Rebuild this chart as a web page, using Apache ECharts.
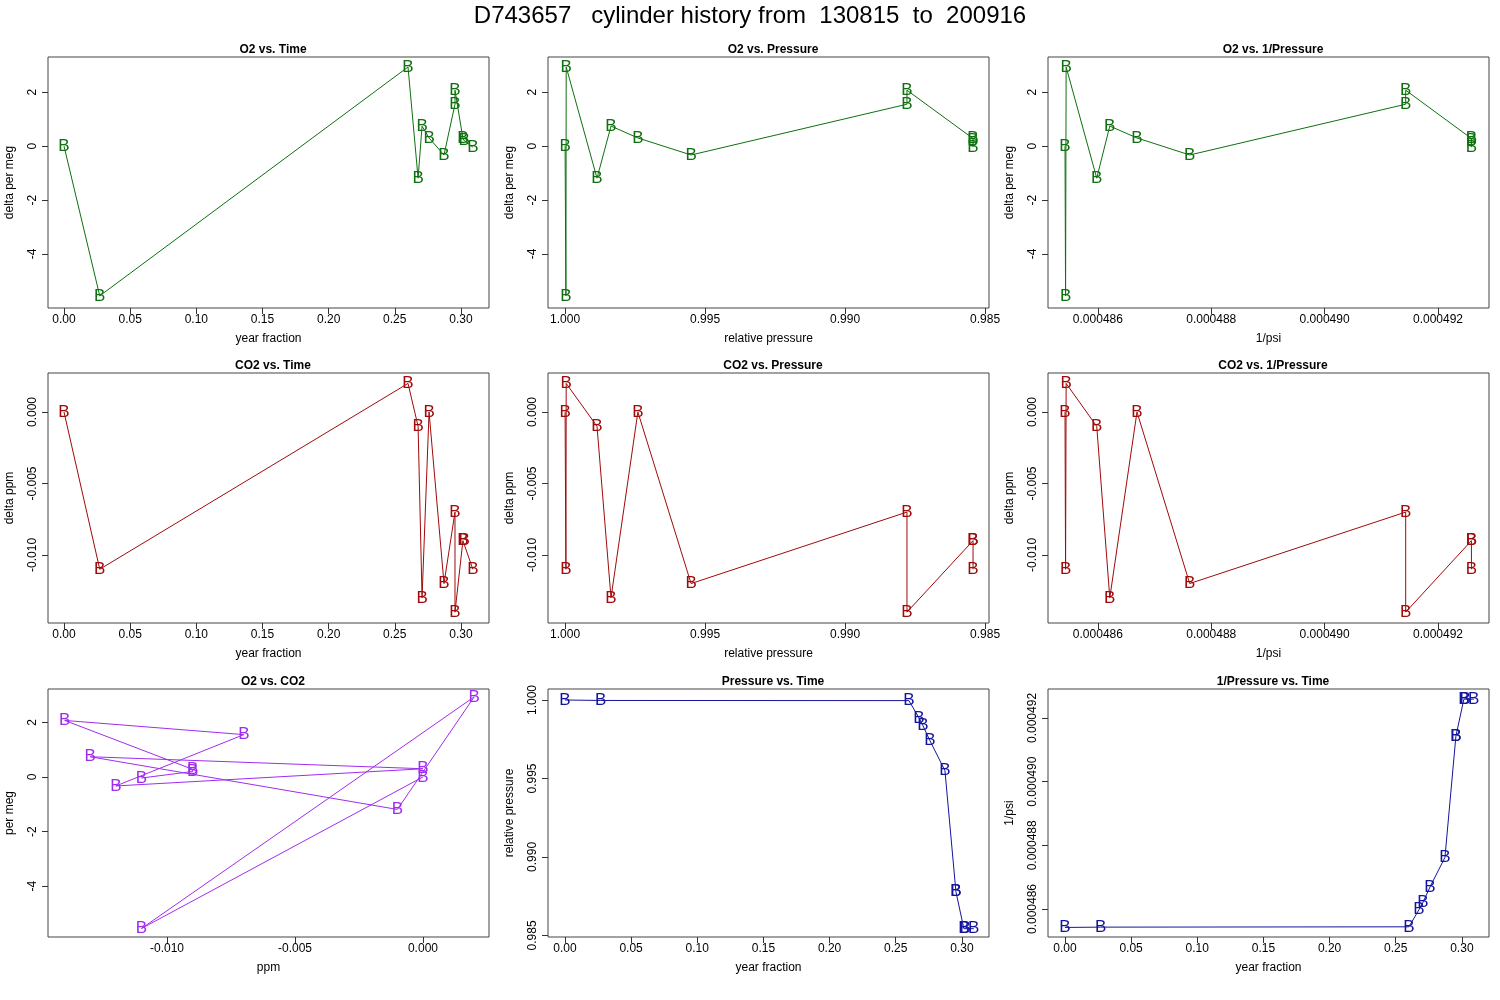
<!DOCTYPE html>
<html>
<head>
<meta charset="utf-8">
<script src="https://cdn.jsdelivr.net/npm/echarts@6/dist/echarts.min.js"></script>
<style>
  html, body { margin: 0; padding: 0; background: #fff; }
  #chart { width: 1500px; height: 1000px; }
</style>
</head>
<body>
<div id="chart"></div>
<script>
// observations in time order
const time = [0, 0.027, 0.260, 0.2676, 0.2706, 0.2759, 0.2872, 0.2955, 0.2955, 0.3015, 0.3025, 0.309];
const o2 = [0, -5.55, 2.93, -1.19, 0.74, 0.3, -0.33, 1.55, 2.07, 0.28, 0.2, -0.04];
const co2 = [0, -0.011, 0.002, -0.001, -0.013, 0, -0.012, -0.007, -0.014, -0.009, -0.009, -0.011];
const pressure = [1.0, 0.99997, 0.99996, 0.99886, 0.99836, 0.9974, 0.9955, 0.98779, 0.98779, 0.98543, 0.98543, 0.98543];
const invPsi = [0.00048542, 0.00048543, 0.00048544, 0.00048598, 0.00048621, 0.00048669, 0.00048762, 0.00049143, 0.00049143, 0.00049259, 0.00049259, 0.00049259];

// tick labels
const timeTicks = [0, 0.05, 0.10, 0.15, 0.20, 0.25, 0.30];
const o2Ticks = [-4, -2, 0, 2];
const co2Ticks = [-0.010, -0.005, 0.000];
const presTicks = [1.000, 0.995, 0.990, 0.985];
const invTicks = [0.000486, 0.000488, 0.000490, 0.000492];
const co2xTicks = [-0.010, -0.005, 0.000];

const GREEN = "#0f700f", RED = "#a00a0a", PURPLE = "#a02cf0", BLUE = "#14149e";
const FONT = "Liberation Sans";

const chart = echarts.init(document.getElementById("chart"));

const lefts = [48, 548, 1048];
const tops = [57, 373, 689];
const heights = [251, 250, 248];

// panel definitions: x data, y data, axis settings
const panels = [
  { title: "O2 vs. Time", x: time, y: o2, color: GREEN,
    xr: [-0.0121, 0.3212], xt: timeTicks, xd: 2, xn: "year fraction",
    yr: [-6.0, 3.3], yt: o2Ticks, yd: 0, yn: "delta per meg" },
  { title: "O2 vs. Pressure", x: pressure, y: o2, color: GREEN, inv: true,
    xr: [0.98486, 1.00061], xt: presTicks, xd: 3, xn: "relative pressure",
    yr: [-6.0, 3.3], yt: o2Ticks, yd: 0, yn: "delta per meg" },
  { title: "O2 vs. 1/Pressure", x: invPsi, y: o2, color: GREEN,
    xr: [0.00048512, 0.0004929], xt: invTicks, xd: 6, xn: "1/psi",
    yr: [-6.0, 3.3], yt: o2Ticks, yd: 0, yn: "delta per meg" },
  { title: "CO2 vs. Time", x: time, y: co2, color: RED,
    xr: [-0.0121, 0.3212], xt: timeTicks, xd: 2, xn: "year fraction",
    yr: [-0.01476, 0.00273], yt: co2Ticks, yd: 3, yn: "delta ppm" },
  { title: "CO2 vs. Pressure", x: pressure, y: co2, color: RED, inv: true,
    xr: [0.98486, 1.00061], xt: presTicks, xd: 3, xn: "relative pressure",
    yr: [-0.01476, 0.00273], yt: co2Ticks, yd: 3, yn: "delta ppm" },
  { title: "CO2 vs. 1/Pressure", x: invPsi, y: co2, color: RED,
    xr: [0.00048512, 0.0004929], xt: invTicks, xd: 6, xn: "1/psi",
    yr: [-0.01476, 0.00273], yt: co2Ticks, yd: 3, yn: "delta ppm" },
  { title: "O2 vs. CO2", x: co2, y: o2, color: PURPLE,
    xr: [-0.01465, 0.00258], xt: co2xTicks, xd: 3, xn: "ppm",
    yr: [-5.86, 3.22], yt: o2Ticks, yd: 0, yn: "per meg" },
  { title: "Pressure vs. Time", x: time, y: pressure, color: BLUE,
    xr: [-0.0128, 0.3205], xt: timeTicks, xd: 2, xn: "year fraction",
    yr: [0.9849, 1.0007], yt: presTicks, yd: 3, yn: "relative pressure" },
  { title: "1/Pressure vs. Time", x: time, y: invPsi, color: BLUE,
    xr: [-0.0128, 0.3205], xt: timeTicks, xd: 2, xn: "year fraction",
    yr: [0.00048512, 0.00049291], yt: invTicks, yd: 6, yn: "1/psi" }
];

const grid = [], xAxis = [], yAxis = [], series = [], titles = [];
const labelStyle = { fontFamily: FONT, fontSize: 12, color: "#000" };

panels.forEach((p, i) => {
  const col = i % 3, row = Math.floor(i / 3);
  grid.push({ left: lefts[col], top: tops[row], width: 441, height: heights[row],
    show: true, borderColor: "#444", borderWidth: 1, backgroundColor: "transparent" });
  titles.push({ text: p.title, left: lefts[col] + 220, top: tops[row] - 18, textAlign: "center",
    textStyle: { fontFamily: FONT, fontSize: 12, fontWeight: "bold", color: "#000" } });
  xAxis.push({
    type: "value", gridIndex: i, min: p.xr[0], max: p.xr[1], inverse: !!p.inv,
    position: "bottom",
    name: p.xn, nameLocation: "middle", nameGap: 25, nameTextStyle: labelStyle,
    axisLine: { show: false, onZero: false }, splitLine: { show: false },
    axisTick: { show: true, length: 6, lineStyle: { color: "#333" }, customValues: p.xt },
    axisLabel: { ...labelStyle, margin: 6, customValues: p.xt,
      formatter: (v) => v.toFixed(p.xd) }
  });
  yAxis.push({
    type: "value", gridIndex: i, min: p.yr[0], max: p.yr[1],
    position: "left",
    name: p.yn, nameLocation: "middle", nameGap: 32, nameTextStyle: labelStyle,
    axisLine: { show: false, onZero: false }, splitLine: { show: false },
    axisTick: { show: true, length: 6, lineStyle: { color: "#333" }, customValues: p.yt },
    axisLabel: { ...labelStyle, rotate: 90, margin: 9, customValues: p.yt,
      formatter: (v) => v.toFixed(p.yd) }
  });
  const pts = p.x.map((xv, k) => [xv, p.y[k]]);
  series.push({
    type: "line", xAxisIndex: i, yAxisIndex: i, data: pts, showSymbol: false,
    lineStyle: { color: p.color, width: 1 }, silent: true, animation: false
  });
  series.push({
    type: "scatter", xAxisIndex: i, yAxisIndex: i, data: pts, symbolSize: 1,
    itemStyle: { color: "rgba(0,0,0,0)" }, silent: true, animation: false,
    label: { show: true, position: "inside", formatter: "B", opacity: 1,
      fontFamily: FONT, fontSize: 17, color: p.color }
  });
});

titles.unshift({ text: "D743657   cylinder history from  130815  to  200916",
  left: "center", top: -1,
  textStyle: { fontFamily: FONT, fontSize: 24, fontWeight: "normal", color: "#000" } });

chart.setOption({
  backgroundColor: "#fff",
  animation: false,
  title: titles,
  grid: grid,
  xAxis: xAxis,
  yAxis: yAxis,
  series: series
});
</script>
</body>
</html>
